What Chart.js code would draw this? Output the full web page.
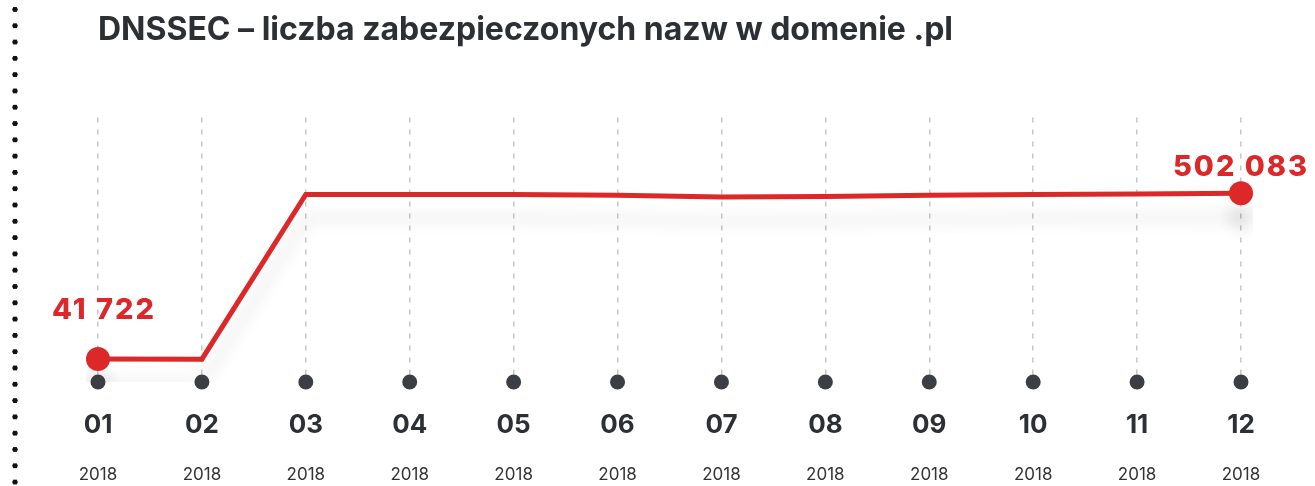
<!DOCTYPE html>
<html>
<head>
<meta charset="utf-8">
<script src="https://cdn.jsdelivr.net/npm/chart.js@4"></script>
<style>
    html, body { margin: 0; padding: 0; background: #fff; }
    #wrap { position: relative; width: 1315px; height: 486px; }
    #dots {
        position: absolute; left: 10px; top: 0; width: 10px; height: 486px;
        background: radial-gradient(circle at 5px 8.15px, #111 2.4px, transparent 2.9px) 0 1.3px / 10px 16.3px repeat-y;
    }
    #chart { position: absolute; left: 0; top: 0; }
</style>
</head>
<body>
<div id="wrap">
    <div id="dots"></div>
    <canvas id="chart" width="1315" height="486"></canvas>
</div>
<script>
// DNSSEC - signed .pl names, monthly 2018
const months = ['01', '02', '03', '04', '05', '06', '07', '08', '09', '10', '11', '12'];
const years = ['2018', '2018', '2018', '2018', '2018', '2018', '2018', '2018', '2018', '2018', '2018', '2018'];
const signedNames = [41722, 41500, 499000, 499000, 499000, 496500, 492000, 493000, 496500, 499000, 500000, 502083];
const shownLabels = ['41 722', '', '', '', '', '', '', '', '', '', '', '502 083'];

const RED = '#dc2828';
const DARK = '#2c2f34';

// soft shadow below the line
const shadowPlugin = {
    id: 'lineShadow',
    beforeDatasetsDraw(chart) {
        const ctx = chart.ctx;
        ctx.save();
        ctx.shadowColor = 'rgba(0, 0, 0, 0.12)';
        ctx.shadowBlur = 16;
        ctx.shadowOffsetY = 24;
    },
    afterDatasetsDraw(chart) {
        chart.ctx.restore();
    }
};

// dark dots on the axis + value labels at the ends
const decorPlugin = {
    id: 'decor',
    afterDraw(chart) {
        const ctx = chart.ctx;
        const xs = chart.scales.x;
        const ys = chart.scales.y;
        const bottom = chart.chartArea.bottom;
        ctx.save();
        ctx.fillStyle = '#3b3e43';
        months.forEach((m, i) => {
            ctx.beginPath();
            ctx.arc(xs.getPixelForValue(i), bottom, 7.5, 0, Math.PI * 2);
            ctx.fill();
        });
        ctx.fillStyle = RED;
        ctx.font = '800 29px Inter';
        ctx.letterSpacing = '2px';
        ctx.textAlign = 'center';
        ctx.textBaseline = 'middle';
        shownLabels.forEach((txt, i) => {
            if (!txt) return;
            const x = xs.getPixelForValue(i);
            const y = ys.getPixelForValue(signedNames[i]);
            if (i === 0) ctx.fillText(txt, x + 6, y - 49);
            else ctx.fillText(txt, x, y - 26);
        });
        ctx.restore();
    }
};

new Chart(document.getElementById('chart'), {
    type: 'line',
    data: {
        labels: months,
        datasets: [{
            data: signedNames,
            borderColor: RED,
            borderWidth: 5,
            tension: 0,
            pointRadius: signedNames.map((v, i) => (i === 0 || i === signedNames.length - 1) ? 12 : 0),
            pointBackgroundColor: RED,
            pointBorderWidth: 0,
            pointHoverRadius: 12
        }]
    },
    options: {
        responsive: false,
        animation: false,
        layout: { padding: { left: 98, right: 74, bottom: 4, top: 0 } },
        plugins: {
            legend: { display: false },
            tooltip: { enabled: false },
            title: {
                display: true,
                text: 'DNSSEC – liczba zabezpieczonych nazw w domenie .pl',
                align: 'start',
                color: DARK,
                font: { family: 'Inter', size: 32, weight: '700' },
                padding: { top: 11, bottom: 68 }
            }
        },
        scales: {
            x: {
                type: 'category',
                offset: false,
                afterFit: s => { s.height = 56; },
                grid: { display: true, drawTicks: false, color: '#c6c6c6', lineWidth: 1.5 },
                border: { display: false, dash: [5, 7] },
                ticks: {
                    color: DARK,
                    padding: 28,
                    font: { family: 'Inter', size: 26, weight: '700' },
                    maxRotation: 0,
                    autoSkip: false
                }
            },
            x2: {
                type: 'category',
                position: 'bottom',
                labels: years,
                offset: false,
                afterFit: s => { s.height = 44; },
                grid: { display: false, drawTicks: false },
                border: { display: false },
                ticks: {
                    color: '#333333',
                    padding: 27,
                    font: { family: 'Inter', size: 17, weight: '400' },
                    maxRotation: 0,
                    autoSkip: false
                }
            },
            y: {
                display: false,
                min: -22000,
                max: 713000
            }
        }
    },
    plugins: [shadowPlugin, decorPlugin]
});
</script>
</body>
</html>
